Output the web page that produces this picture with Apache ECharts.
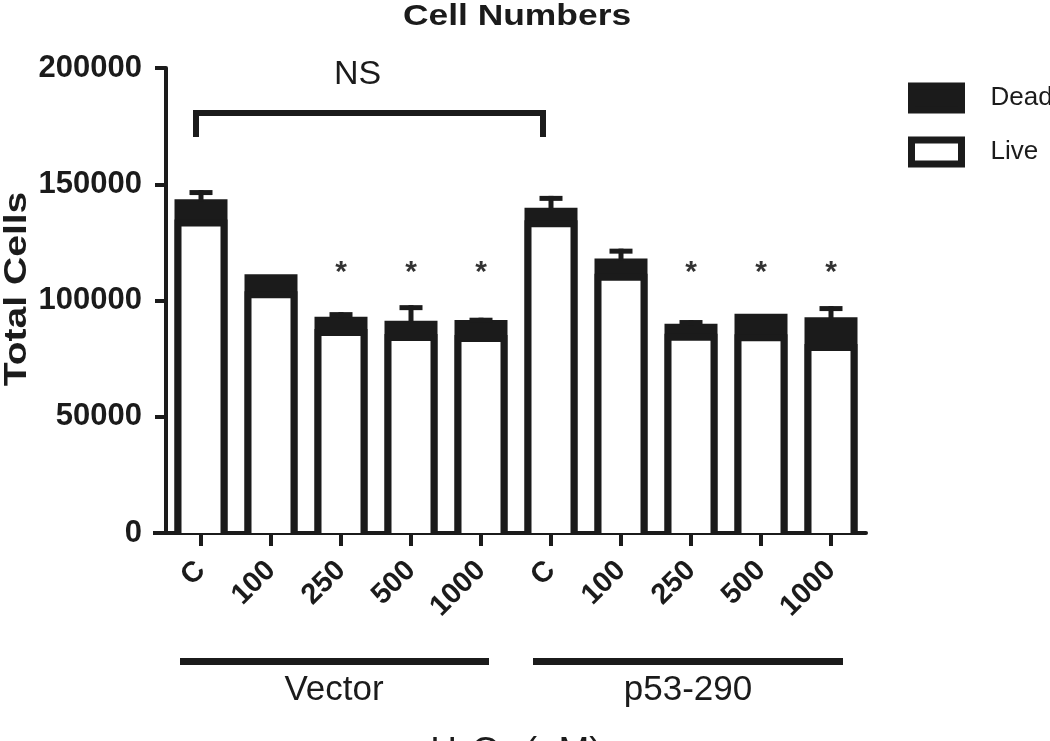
<!DOCTYPE html>
<html>
<head>
<meta charset="utf-8">
<script src="https://cdn.jsdelivr.net/npm/echarts@6/dist/echarts.min.js"></script>
<style>
html,body{margin:0;padding:0;background:#fff;}
#chart{width:1050px;height:741px;}
</style>
</head>
<body>
<div id="chart"></div>
<script>
// ---- data ----
const groups = ['Vector', 'p53-290'];
const doses = ['C', '100', '250', '500', '1000'];
const categories = ['Vector|C','Vector|100','Vector|250','Vector|500','Vector|1000',
                    'p53-290|C','p53-290|100','p53-290|250','p53-290|500','p53-290|1000'];
const liveCells = [134800, 104000, 87700, 85600, 85200, 134500, 111500, 85700, 85500, 81300];
const deadCells = [8700, 7300, 5300, 5700, 6400, 5400, 6600, 4300, 8800, 11500];
const totalSD   = [4000, 0, 2000, 6700, 1000, 5100, 4200, 1600, 0, 4800];
const significance = ['', '', '*', '*', '*', '', '', '*', '*', '*'];
const yTicks = [0, 50000, 100000, 150000, 200000];
const nsComparison = { from: 0, to: 5, label: 'NS', top: 180600, bottom: 170300 };
const starLevel = 112000;

const INK = '#1b1b1b';
const FONT = '"Liberation Sans", Arial, Helvetica, sans-serif';
const BAR_W = 53, BORDER = 7;

// total cells = live + dead (top of the stacked column)
const totals = liveCells.map((v, i) => v + deadCells[i]);

const chart = echarts.init(document.getElementById('chart'), null, { renderer: 'canvas' });

const option = {
  backgroundColor: '#ffffff',
  animation: false,
  grid: { left: 166, right: 184, top: 68, bottom: 208, containLabel: false },
  legend: {
    orient: 'vertical',
    left: 908, top: 82.5, padding: 0,
    itemWidth: 50, itemHeight: 24, itemGap: 23,
    icon: 'rect',
    textStyle: { fontFamily: FONT, fontSize: 26, lineHeight: 24, color: INK, padding: [2, 0, 0, 24] },
    data: [
      { name: 'Dead', itemStyle: { color: INK, borderColor: INK, borderWidth: 7 } },
      { name: 'Live', itemStyle: { color: '#ffffff', borderColor: INK, borderWidth: 7 } }
    ]
  },
  xAxis: {
    type: 'category',
    data: categories,
    axisLine: { show: true, lineStyle: { color: INK, width: 4 } },
    axisTick: { show: true, alignWithLabel: true, length: 13, lineStyle: { color: INK, width: 4 } },
    axisLabel: {
      interval: 0, rotate: 45, margin: 33,
      fontFamily: FONT, fontSize: 29, fontWeight: 'bold', color: INK,
      formatter: v => v.split('|')[1]
    },
    splitLine: { show: false }
  },
  yAxis: {
    type: 'value',
    min: yTicks[0], max: yTicks[yTicks.length - 1], interval: yTicks[1] - yTicks[0],
    axisLine: { show: true, lineStyle: { color: INK, width: 4 } },
    axisTick: { show: true, length: 11, lineStyle: { color: INK, width: 4 } },
    axisLabel: { margin: 24, fontFamily: FONT, fontSize: 31, fontWeight: 'bold', color: INK,
                 formatter: v => String(v) },
    splitLine: { show: false }
  },
  series: [
    {
      // dead cells sit on top of the live cells: drawn as the full column behind the live column
      name: 'Dead', type: 'bar', barWidth: BAR_W,
      itemStyle: { color: INK },
      data: totals, z: 2
    },
    {
      name: 'Live', type: 'custom', z: 3,
      itemStyle: { color: '#ffffff', borderColor: INK },
      encode: { x: 0, y: 1 },
      data: liveCells.map((v, i) => [i, v]),
      renderItem: function (params, api) {
        const p0 = api.coord([api.value(0), 0]);
        const p1 = api.coord([api.value(0), api.value(1)]);
        const x = p0[0] - BAR_W / 2, h = BORDER / 2;
        return {
          type: 'group',
          children: [
            { type: 'rect', shape: { x: x + h, y: p1[1] + h, width: BAR_W - BORDER, height: p0[1] - p1[1] - h }, style: { fill: '#ffffff' } },
            { type: 'polyline',
              shape: { points: [[x + h, p0[1]], [x + h, p1[1] + h], [x + BAR_W - h, p1[1] + h], [x + BAR_W - h, p0[1]]] },
              style: { stroke: INK, lineWidth: BORDER, fill: null, lineJoin: 'miter', lineCap: 'butt' } }
          ]
        };
      }
    },
    {
      name: 'sd', type: 'custom', z: 4,
      data: totals.map((t, i) => [i, t, totalSD[i]]),
      renderItem: function (params, api) {
        const i = api.value(0), t = api.value(1), sd = api.value(2);
        if (!sd) return null;
        const base = api.coord([i, t]);
        const top = api.coord([i, t + sd]);
        return {
          type: 'group',
          children: [
            { type: 'rect', shape: { x: base[0] - 2.5, y: top[1], width: 5, height: base[1] - top[1] + 2 }, style: { fill: INK } },
            { type: 'rect', shape: { x: base[0] - 11.5, y: top[1], width: 23, height: 5 }, style: { fill: INK } }
          ]
        };
      }
    },
    {
      name: 'sig', type: 'scatter', symbolSize: 0, z: 5,
      data: significance.map((s, i) => s ? { value: [i, starLevel], label: { formatter: s } } : null).filter(d => d),
      label: { show: true, position: 'inside', fontFamily: FONT, fontSize: 30, fontWeight: 'bold',
               color: '#000000', textBorderWidth: 0 }
    },
    {
      name: 'ns', type: 'custom', z: 5,
      data: [[nsComparison.from, nsComparison.to, nsComparison.top, nsComparison.bottom]],
      renderItem: function (params, api) {
        const a = api.coord([api.value(0), api.value(2)]);
        const b = api.coord([api.value(1), api.value(2)]);
        const bot = api.coord([api.value(0), api.value(3)]);
        const x0 = a[0] - 5, x1 = b[0] - 8;
        return {
          type: 'group',
          children: [
            { type: 'polyline', shape: { points: [[x0, bot[1]], [x0, a[1]], [x1, a[1]], [x1, bot[1]]] },
              style: { stroke: INK, lineWidth: 6, fill: null, lineJoin: 'miter', lineCap: 'butt' } },
            { type: 'text', x: (x0 + x1) / 2 - 12, y: a[1] - 21,
              style: { text: nsComparison.label, font: '34px ' + FONT, fill: INK, textAlign: 'center', textVerticalAlign: 'bottom' } }
          ]
        };
      }
    }
  ],
  graphic: [
    { type: 'text', x: 517, y: 17, scaleX: 1.18,
      style: { text: 'Cell Numbers', font: 'bold 30px ' + FONT, fill: INK, textAlign: 'center', textVerticalAlign: 'middle' } },
    { type: 'text', x: 17, y: 289, rotation: Math.PI / 2, scaleX: 1.26,
      style: { text: 'Total Cells', font: 'bold 31px ' + FONT, fill: INK, textAlign: 'center', textVerticalAlign: 'middle' } },
    { type: 'rect', shape: { x: 153, y: 531, width: 14, height: 4 }, style: { fill: INK } },
    { type: 'rect', shape: { x: 180, y: 658, width: 309, height: 7 }, style: { fill: INK } },
    { type: 'rect', shape: { x: 533, y: 658, width: 310, height: 7 }, style: { fill: INK } },
    { type: 'text', x: 334, y: 690, style: { text: groups[0], font: '35px ' + FONT, fill: INK, textAlign: 'center', textVerticalAlign: 'middle' } },
    { type: 'text', x: 688, y: 690, style: { text: groups[1], font: '35px ' + FONT, fill: INK, textAlign: 'center', textVerticalAlign: 'middle' } },
    { type: 'text', x: 516, y: 753, style: { text: 'H₂O₂ (μM)', font: '37px ' + FONT, fill: INK, textAlign: 'center', textVerticalAlign: 'middle' } }
  ]
};
chart.setOption(option);
</script>
</body>
</html>
